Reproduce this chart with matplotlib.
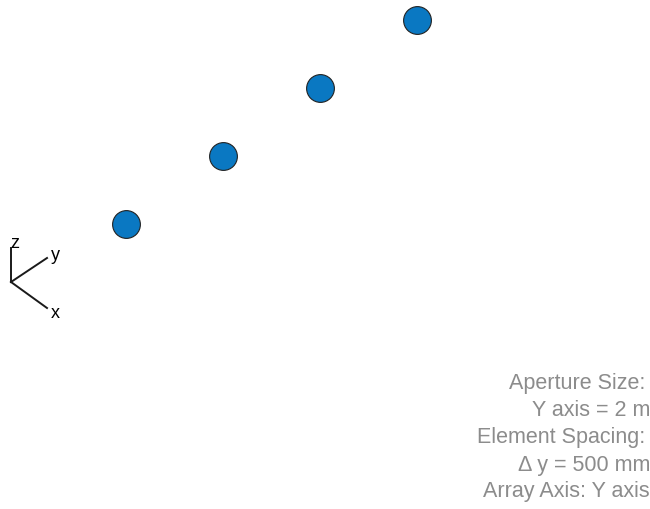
import numpy as np
import matplotlib
matplotlib.use("Agg")
import matplotlib.pyplot as plt

# element positions along the array axis (metres)
elem_y = [-0.75, -0.25, 0.25, 0.75]
info_lines = ["Aperture Size:", "Y axis = 2 m", "Element Spacing:",
              "\u0394 y = 500 mm", "Array Axis: Y axis"]

# simple view projection: y axis points up-right on screen
az = np.deg2rad(35)
px_per_m = 237.0
W, H = 650, 509
cx, cy = 271.5, 122.0  # screen position of array centre (px)

fig = plt.figure(figsize=(W / 100, H / 100), dpi=100)
ax = fig.add_axes([0, 0, 1, 1])
ax.set_xlim(-cx / px_per_m, (W - cx) / px_per_m)
ax.set_ylim(-(H - cy) / px_per_m, cy / px_per_m)
ax.axis("off")

u = np.array(elem_y) * np.cos(az)
v = np.array(elem_y) * np.sin(az)
ax.plot(u, v, "o", ms=20, mfc="#0a78c2", mec="#222222", mew=0.8, ls="none")

# orientation triad (figure pixel coords)
ox, oy = 11, H - 282
tri = {"x": (36, -26), "y": (36, 24), "z": (0, 34)}
for k, (dx, dy) in tri.items():
    fig.add_artist(plt.Line2D([ox / W, (ox + dx) / W], [oy / H, (oy + dy) / H],
                              color="#1a1a1a", lw=1.4, transform=fig.transFigure))
fig.text(51 / W, (H - 313) / H, "x", fontsize=13, family="Liberation Sans", va="center")
fig.text(51 / W, (H - 256) / H, "y", fontsize=13, family="Liberation Sans", va="center")
fig.text(10 / W, (H - 243) / H, "z", fontsize=13, family="Liberation Sans", va="center")

# info text block
rights = [645, 650, 645, 650, 650]
for i, (txt, r) in enumerate(zip(info_lines, rights)):
    fig.text(r / W, (H - 384 - i * 27) / H, txt, fontsize=15.5, color="#8c8c8c",
             family="Liberation Sans", ha="right", va="center")

fig.savefig("out.png", dpi=100)
